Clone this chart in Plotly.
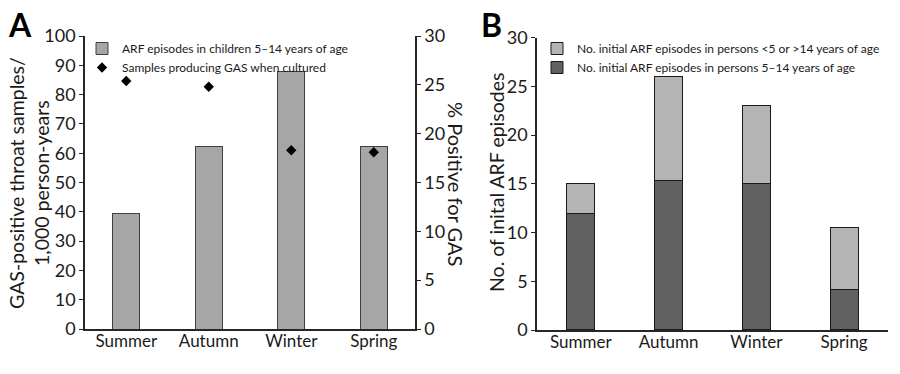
import plotly.graph_objects as go

seasons = ["Summer", "Autumn", "Winter", "Spring"]
# Panel A
gas_rate = [39.3, 62.4, 88.0, 62.2]          # GAS-positive throat samples / 1,000 person-years
pct_positive = [25.4, 24.8, 18.3, 18.1]      # % positive for GAS
# Panel B
arf_5_14 = [12.0, 15.3, 15.0, 4.2]
arf_other = [3.0, 10.7, 8.0, 6.3]

left_ticks = list(range(0, 101, 10))
right_ticks = list(range(0, 31, 5))
b_ticks = list(range(0, 31, 5))

FONT = "Lato, 'Open Sans', sans-serif"
AX = "#262626"
W, H = 900, 374

def px_x(x):
    return x / W

def px_y(y):
    return (H - y) / H

fig = go.Figure()

fig.add_trace(go.Bar(
    x=seasons, y=gas_rate, name="ARF episodes in children 5\u201314 years of age",
    marker=dict(color="#a6a6a6", line=dict(color="#404040", width=1)),
    width=0.33, xaxis="x", yaxis="y", legend="legend",
))
fig.add_trace(go.Scatter(
    x=seasons, y=pct_positive, mode="markers",
    name="Samples producing GAS when cultured",
    marker=dict(symbol="diamond", size=8, color="black"),
    xaxis="x", yaxis="y2", legend="legend",
))

fig.add_trace(go.Bar(
    x=seasons, y=arf_5_14, name="No. initial ARF episodes in persons 5\u201314 years of age",
    marker=dict(color="#606060", line=dict(color="#1a1a1a", width=1)),
    width=0.32, xaxis="x2", yaxis="y3", legend="legend2", legendrank=2,
))
fig.add_trace(go.Bar(
    x=seasons, y=arf_other, name="No. initial ARF episodes in persons <5 or >14 years of age",
    marker=dict(color="#b4b4b4", line=dict(color="#1a1a1a", width=1)),
    width=0.32, xaxis="x2", yaxis="y3", legend="legend2", legendrank=1,
))

tickfont = dict(family=FONT, size=18, color="#1a1a1a")
catfont = dict(family=FONT, size=17, color="#1a1a1a")

fig.update_layout(
    width=W, height=H,
    margin=dict(l=0, r=0, t=0, b=0, autoexpand=False),
    paper_bgcolor="white", plot_bgcolor="white",
    barmode="stack",
    font=dict(family=FONT, color="#1a1a1a"),
    xaxis=dict(domain=[px_x(85), px_x(415)], anchor="y", showline=True, linecolor=AX, linewidth=1.5,
               ticks="", tickfont=catfont, showgrid=False, automargin=False, ticklabelstandoff=-4),
    yaxis=dict(domain=[px_y(329), px_y(36)], anchor="x", range=[0, 100], tickvals=left_ticks,
               showline=True, linecolor=AX, linewidth=1.5, ticks="outside", ticklen=4, tickcolor=AX,
               tickfont=tickfont, showgrid=False, zeroline=False, automargin=False),
    yaxis2=dict(overlaying="y", side="right", anchor="x", range=[0, 30], tickvals=right_ticks,
                showline=True, linecolor=AX, linewidth=1.5, ticks="outside", ticklen=4, tickcolor=AX,
                tickfont=tickfont, showgrid=False, zeroline=False, automargin=False),
    xaxis2=dict(domain=[px_x(537), px_x(888)], anchor="y3", showline=True, linecolor=AX, linewidth=1.5,
                ticks="", tickfont=catfont, showgrid=False, automargin=False, ticklabelstandoff=-4),
    yaxis3=dict(domain=[px_y(330), px_y(37.7)], anchor="x2", range=[0, 30], tickvals=b_ticks,
                showline=True, linecolor=AX, linewidth=1.5, ticks="outside", ticklen=4, tickcolor=AX,
                tickfont=tickfont, showgrid=False, zeroline=False, automargin=False),
    legend=dict(x=px_x(82), y=px_y(34), xanchor="left", yanchor="top", bgcolor="rgba(0,0,0,0)",
                font=dict(family=FONT, size=12), traceorder="normal", itemwidth=30, tracegroupgap=0),
    legend2=dict(x=px_x(537), y=px_y(34), xanchor="left", yanchor="top", bgcolor="rgba(0,0,0,0)",
                 font=dict(family=FONT, size=12), traceorder="normal", itemwidth=30, tracegroupgap=0),
    showlegend=True,
)

annotations = [
    dict(text="<b>A</b>", x=px_x(20), y=px_y(24), font=dict(size=32, family=FONT, color="black")),
    dict(text="<b>B</b>", x=px_x(491), y=px_y(24), font=dict(size=32, family=FONT, color="black")),
    dict(text="GAS-positive throat samples/<br>1,000 person-years", x=px_x(29), y=px_y(183),
         textangle=-90, font=dict(size=19.5, family=FONT, color="#1a1a1a")),
    dict(text="% Positive for GAS", x=px_x(456), y=px_y(184),
         textangle=90, font=dict(size=20, family=FONT, color="#1a1a1a")),
    dict(text="No. of inital ARF episodes", x=px_x(497), y=px_y(182),
         textangle=-90, font=dict(size=19.5, family=FONT, color="#1a1a1a")),
]
for a in annotations:
    a.update(xref="paper", yref="paper", showarrow=False, xanchor="center", yanchor="middle")
fig.update_layout(annotations=annotations)

fig.write_html("out.html", config={"displayModeBar": False},
               post_script="document.body.style.margin='0';")
